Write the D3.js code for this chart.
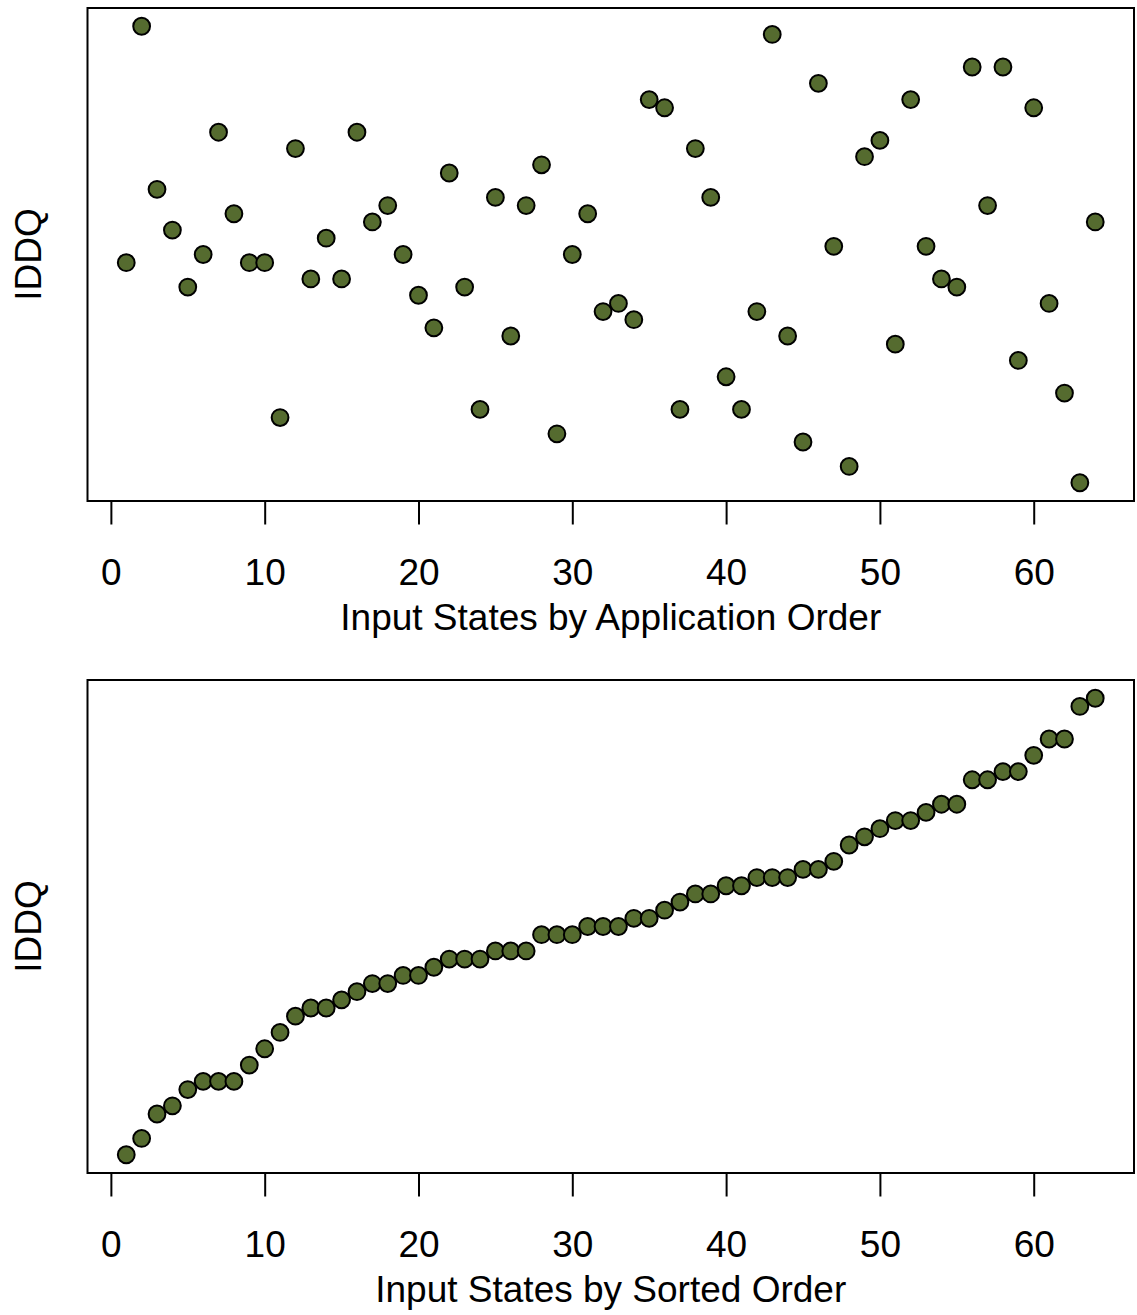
<!DOCTYPE html>
<html>
<head>
<meta charset="utf-8">
<script src="https://cdn.jsdelivr.net/npm/d3@7"></script>
<style>
  body { margin: 0; background: #fff; }
  svg { display: block; font-family: "Liberation Sans", Arial, sans-serif; }
</style>
</head>
<body>
<div id="chart"></div>
<script>
// IDDQ readings per input state, in the order the states were applied
var iddqByApplication = [
  27, 56, 36, 31, 24, 28, 43, 33, 27, 27,
   8, 41, 25, 30, 25, 43, 32, 34, 28, 23,
  19, 38, 24,  9, 35, 18, 34, 39,  6, 28,
  33, 21, 22, 20, 47, 46,  9, 41, 35, 13,
   9, 21, 55, 18,  5, 49, 29,  2, 40, 42,
  17, 47, 29, 25, 24, 51, 34, 51, 15, 46,
  22, 11,  0, 32
];
var iddqSorted = d3.sort(iddqByApplication, d3.ascending);

var xTicks = [0, 10, 20, 30, 40, 50, 60];
var panelTitles = ["Input States by Application Order", "Input States by Sorted Order"];
var yLabel = "IDDQ";

var W = 1137, H = 1315;
var left = 87.5, right = 1134, boxH = 493;
var panelTops = [8, 680];
var fontSize = 37;

var svg = d3.select("#chart").append("svg")
  .attr("width", W)
  .attr("height", H);

svg.append("rect").attr("width", W).attr("height", H).attr("fill", "#fff");

// R style padding: 4% on each side of the data range
function padded(lo, hi) {
  var d = (hi - lo) * 0.04;
  return [lo - d, hi + d];
}

var n = iddqByApplication.length;
var x = d3.scaleLinear().domain(padded(1, n)).range([left, right]);
var y = d3.scaleLinear()
  .domain(padded(d3.min(iddqByApplication), d3.max(iddqByApplication)));

function drawPanel(values, top, title) {
  y.range([top + boxH, top]);
  var g = svg.append("g");

  g.append("rect")
    .attr("x", left).attr("y", top)
    .attr("width", right - left).attr("height", boxH)
    .attr("fill", "none").attr("stroke", "#000").attr("stroke-width", 2);

  var axis = d3.axisBottom(x)
    .tickValues(xTicks)
    .tickFormat(d3.format("d"))
    .tickSize(23.5)
    .tickPadding(34);

  var ax = g.append("g")
    .attr("transform", "translate(0," + (top + boxH) + ")")
    .call(axis);
  ax.select(".domain").remove();
  ax.selectAll(".tick line").attr("stroke", "#000").attr("stroke-width", 2);
  ax.selectAll(".tick text")
    .attr("fill", "#000")
    .style("font-size", fontSize + "px")
    .style("font-family", "'Liberation Sans', Arial, sans-serif");

  g.append("text")
    .attr("x", (left + right) / 2)
    .attr("y", top + boxH + 129)
    .attr("text-anchor", "middle")
    .style("font-size", fontSize + "px")
    .text(title);

  g.append("text")
    .attr("transform", "translate(41," + (top + boxH / 2) + ") rotate(-90)")
    .attr("text-anchor", "middle")
    .style("font-size", fontSize + "px")
    .text(yLabel);

  g.selectAll("circle")
    .data(values)
    .enter()
    .append("circle")
    .attr("cx", function(d, i) { return x(i + 1); })
    .attr("cy", function(d) { return y(d); })
    .attr("r", 8.4)
    .attr("fill", "#556b2f")
    .attr("stroke", "#000")
    .attr("stroke-width", 2);
}

drawPanel(iddqByApplication, panelTops[0], panelTitles[0]);
drawPanel(iddqSorted, panelTops[1], panelTitles[1]);
</script>
</body>
</html>
